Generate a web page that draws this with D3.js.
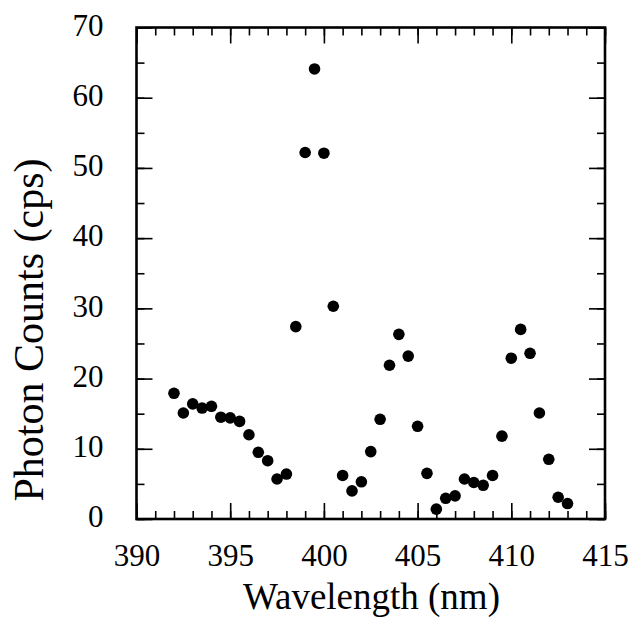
<!DOCTYPE html>
<html>
<head>
<meta charset="utf-8">
<script src="https://cdn.jsdelivr.net/npm/d3@7"></script>
</head>
<body style="margin:0">
<svg id="chart" width="631" height="618" style="display:block"></svg>
<script>
const wavelength = [392, 392.5, 393, 393.5, 394, 394.5, 395, 395.5, 396, 396.5, 397, 397.5, 398, 398.5, 399, 399.5, 400, 400.5, 401, 401.5, 402, 402.5, 403, 403.5, 404, 404.5, 405, 405.5, 406, 406.5, 407, 407.5, 408, 408.5, 409, 409.5, 410, 410.5, 411, 411.5, 412, 412.5, 413];
const counts = [17.9, 15.1, 16.4, 15.8, 16.05, 14.5, 14.4, 13.9, 12.0, 9.5, 8.3, 5.7, 6.4, 27.4, 52.2, 64.1, 52.1, 30.3, 6.2, 4.0, 5.3, 9.6, 14.2, 21.9, 26.3, 23.2, 13.2, 6.5, 1.4, 2.95, 3.3, 5.7, 5.2, 4.8, 6.2, 11.8, 22.9, 27.0, 23.6, 15.1, 8.5, 3.1, 2.2];
const xMajorTicks = [390, 395, 400, 405, 410, 415];
const yMajorTicks = [0, 10, 20, 30, 40, 50, 60, 70];
const xTitle = "Wavelength (nm)";
const yTitle = "Photon Counts (cps)";

const FONT = '"Liberation Serif", Tinos, "Times New Roman", Times, serif';
const svg = d3.select("#chart");
const L = 136.5, R = 605, T = 27.5, B = 519;
const x = d3.scaleLinear().domain([390, 415]).range([L, R]);
const y = d3.scaleLinear().domain([0, 70]).range([B, T]);

const xMinor = d3.range(390, 415.01, 1);
const yMinor = d3.range(0, 70.01, 5);

function styleAxis(g) {
  g.select(".domain").remove();
  g.attr("font-family", null);
  g.selectAll("line").attr("stroke", "#000").attr("stroke-width", 1.6);
}

// minor ticks
svg.append("g").attr("transform", `translate(0,${B})`)
  .call(d3.axisBottom(x).tickValues(xMinor).tickSize(-8).tickFormat(""))
  .call(styleAxis);
svg.append("g").attr("transform", `translate(0,${T})`)
  .call(d3.axisTop(x).tickValues(xMinor).tickSize(-8).tickFormat(""))
  .call(styleAxis);
svg.append("g").attr("transform", `translate(${L},0)`)
  .call(d3.axisLeft(y).tickValues(yMinor).tickSize(-8).tickFormat(""))
  .call(styleAxis);
svg.append("g").attr("transform", `translate(${R},0)`)
  .call(d3.axisRight(y).tickValues(yMinor).tickSize(-8).tickFormat(""))
  .call(styleAxis);

// major ticks with labels
const gx = svg.append("g").attr("transform", `translate(0,${B})`)
  .call(d3.axisBottom(x).tickValues(xMajorTicks).tickSize(-16).tickPadding(25).tickFormat(d3.format("d")))
  .call(styleAxis);
gx.selectAll("text").attr("font-size", 31).style("font-family", FONT).attr("fill", "#000");
svg.append("g").attr("transform", `translate(0,${T})`)
  .call(d3.axisTop(x).tickValues(xMajorTicks).tickSize(-16).tickFormat(""))
  .call(styleAxis);
const gy = svg.append("g").attr("transform", `translate(${L},0)`)
  .call(d3.axisLeft(y).tickValues(yMajorTicks).tickSize(-16).tickPadding(33).tickFormat(d3.format("d")))
  .call(styleAxis);
gy.selectAll("text").attr("font-size", 31).style("font-family", FONT).attr("fill", "#000").attr("dy", "0.25em");
svg.append("g").attr("transform", `translate(${R},0)`)
  .call(d3.axisRight(y).tickValues(yMajorTicks).tickSize(-16).tickFormat(""))
  .call(styleAxis);

// frame
svg.append("rect")
  .attr("x", L).attr("y", T).attr("width", R - L).attr("height", B - T)
  .attr("fill", "none").attr("stroke", "#000").attr("stroke-width", 2.6);

// points
svg.append("g").selectAll("circle")
  .data(wavelength.map((w, i) => ({ w, c: counts[i] })))
  .join("circle")
  .attr("cx", d => x(d.w))
  .attr("cy", d => y(d.c))
  .attr("r", 5.8)
  .attr("fill", "#000");

// titles
svg.append("text")
  .attr("x", 371.5).attr("y", 609)
  .attr("text-anchor", "middle")
  .style("font-family", FONT)
  .attr("font-size", 37)
  .attr("fill", "#000")
  .text(xTitle);

svg.append("text")
  .attr("transform", `translate(43,330) rotate(-90)`)
  .attr("text-anchor", "middle")
  .style("font-family", FONT)
  .attr("font-size", 42)
  .attr("fill", "#000")
  .text(yTitle);
</script>
</body>
</html>
